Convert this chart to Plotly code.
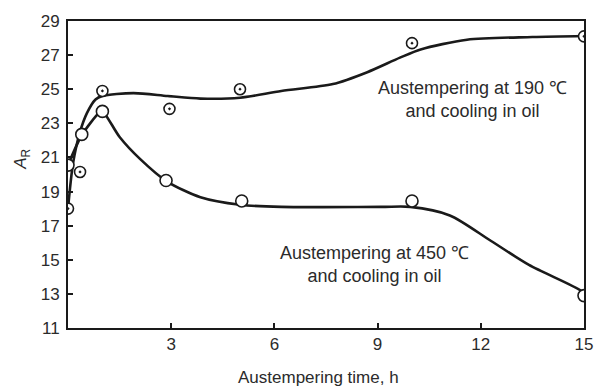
import plotly.graph_objects as go

# Measured points
t190 = [0, 0.35, 1.0, 2.95, 5.0, 10.0, 15.0]
a190 = [18.0, 20.15, 24.9, 23.85, 25.0, 27.7, 28.1]
t450 = [0, 0.4, 1.0, 2.85, 5.05, 10.0, 15.0]
a450 = [20.55, 22.35, 23.7, 19.65, 18.45, 18.45, 12.9]

# Fitted curves
c190_t = [0, 0.15, 0.35, 0.55, 0.8, 1.0, 1.9, 2.9, 3.85, 5.0, 6.2, 7.7, 8.7, 9.65, 10.25, 11.6, 13.5, 15.0]
c190_a = [18.0, 20.7, 22.5, 23.6, 24.4, 24.6, 24.77, 24.6, 24.45, 24.5, 24.9, 25.3, 26.0, 26.85, 27.33, 27.9, 28.06, 28.12]
c450_t = [0, 0.4, 0.9, 1.0, 1.5, 2.1, 2.87, 3.85, 5.0, 6.2, 9.1, 9.95, 11.1, 12.3, 13.4, 14.9, 15.0]
c450_a = [20.55, 22.3, 23.6, 23.7, 22.2, 20.9, 19.6, 18.67, 18.23, 18.1, 18.1, 18.1, 17.6, 16.1, 14.7, 13.2, 12.95]

xticks = [3, 6, 9, 12, 15]
yticks = [11, 13, 15, 17, 19, 21, 23, 25, 27, 29]

ink = "#1a1a1a"
txt = "#2b2b2b"
fig = go.Figure()
fig.add_trace(go.Scatter(x=c190_t, y=c190_a, mode="lines", line=dict(color=ink, width=2.6, shape="spline", smoothing=0.8), hoverinfo="skip"))
fig.add_trace(go.Scatter(x=c450_t, y=c450_a, mode="lines", line=dict(color=ink, width=2.6, shape="spline", smoothing=0.8), hoverinfo="skip"))
fig.add_trace(go.Scatter(x=t190, y=a190, mode="markers",
                         marker=dict(symbol="circle-dot", size=11, color="white", line=dict(color=ink, width=1.6))))
fig.add_trace(go.Scatter(x=t450, y=a450, mode="markers",
                         marker=dict(symbol="circle", size=12, color="white", line=dict(color=ink, width=1.6))))

fnt = "Liberation Sans, Arial, sans-serif"
fig.add_annotation(x=11.77, y=24.4, text="Austempering at 190 ℃<br>and cooling in oil", showarrow=False,
                   font=dict(family=fnt, size=18, color=txt), align="center")
fig.add_annotation(x=8.9, y=14.72, text="Austempering at 450 ℃<br>and cooling in oil", showarrow=False,
                   font=dict(family=fnt, size=18, color=txt), align="center")
# axis titles
fig.add_annotation(xref="paper", yref="paper", x=0.4845, y=-0.16, text="Austempering time, h", showarrow=False,
                   font=dict(family=fnt, size=17, color=txt), xanchor="center", yanchor="middle")
fig.add_annotation(xref="paper", yref="paper", x=-0.089, y=0.548, text="<i>A</i><sub>R</sub>", showarrow=False,
                   font=dict(family=fnt, size=17, color=txt), textangle=-90, xanchor="center", yanchor="middle")

fig.update_layout(
    width=605, height=390, showlegend=False,
    margin=dict(l=68, r=21, t=16, b=62),
    plot_bgcolor="white", paper_bgcolor="white",
    font=dict(family=fnt, color=txt),
    xaxis=dict(range=[0, 15], tickvals=xticks, ticks="inside", ticklen=5, tickwidth=1.5, tickcolor=ink,
               showline=True, linecolor=ink, linewidth=2, mirror=True, showgrid=False, zeroline=False,
               tickfont=dict(size=17)),
    yaxis=dict(range=[11, 29], tickvals=yticks, ticks="inside", ticklen=5, tickwidth=1.5, tickcolor=ink,
               showline=True, linecolor=ink, linewidth=2, mirror=True, showgrid=False, zeroline=False,
               tickfont=dict(size=17), ticklabelstandoff=3),
)
fig.write_html("out.html")
